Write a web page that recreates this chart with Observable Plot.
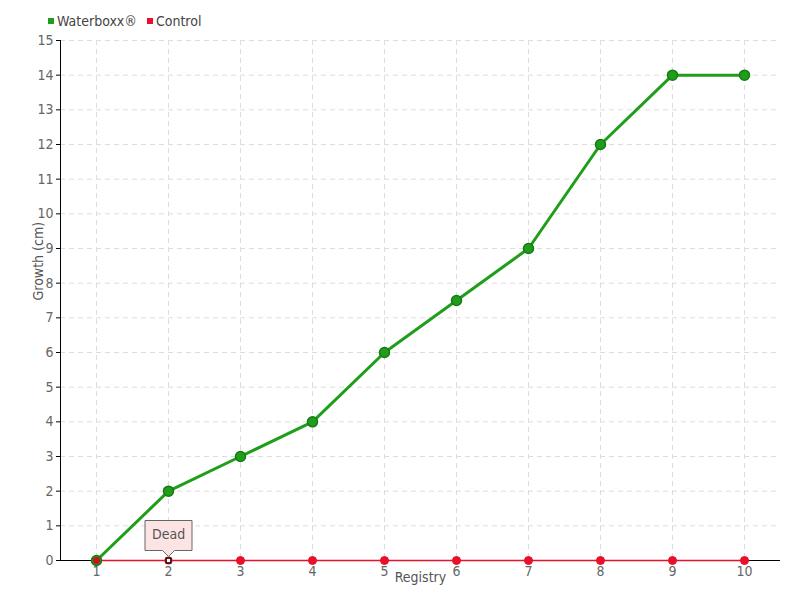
<!DOCTYPE html>
<html><head><meta charset="utf-8">
<script src="https://cdn.jsdelivr.net/npm/d3@7"></script>
<script src="https://cdn.jsdelivr.net/npm/@observablehq/plot@0.6"></script>
<style>
body{margin:0;background:#fff;font-family:"DejaVu Sans Condensed","Liberation Sans Narrow",sans-serif;}
#wrap{position:relative;width:800px;height:600px;}
#legend{position:absolute;left:48px;top:13px;font-size:14px;color:#444;display:flex;gap:10px;align-items:center;}
#legend span.sw{display:inline-block;width:6px;height:6px;margin-right:3px;vertical-align:middle;position:relative;top:-1px;}
#chart{position:absolute;left:0;top:0;}
</style></head>
<body><div id="wrap"><div id="chart"></div><div id="legend"></div></div>
<script>
const registry = [1,2,3,4,5,6,7,8,9,10];
const waterboxx = [0,2,3,4,6,7.5,9,12,14,14];
const control = [0,0,0,0,0,0,0,0,0,0];
const seriesNames = ["Waterboxx®","Control"];
const seriesColors = ["#1f9e1a","#e8102a"];
const yTicks = d3.range(0,16);
const deadNote = {x:2, y:0, label:"Dead"};

const wData = registry.map((r,i)=>({x:r,y:waterboxx[i]}));
const cData = registry.map((r,i)=>({x:r,y:control[i]}));

const leg = document.getElementById("legend");
seriesNames.forEach((n,i)=>{
  const s=document.createElement("div");
  s.innerHTML=`<span class="sw" style="background:${seriesColors[i]}"></span>${n}`;
  leg.appendChild(s);
});

const chart = Plot.plot({
  width:800, height:600,
  marginTop:40, marginLeft:60, marginRight:20, marginBottom:40,
  style:{fontFamily:'"DejaVu Sans Condensed","Liberation Sans Narrow",sans-serif', fontSize:"14px", color:"#555", background:"#fff"},
  x:{domain:[0.5,10.5]},
  y:{domain:[0,15]},
  marks:[
    Plot.gridY(yTicks,{stroke:"#ddd", strokeOpacity:1, strokeDasharray:"5,4"}),
    Plot.gridX(registry,{stroke:"#ddd", strokeOpacity:1, strokeDasharray:"5,4"}),
    Plot.axisX(registry,{tickSize:0, tickPadding:6, tickFormat:d=>String(d), label:null, fill:"#666"}),
    Plot.axisY(yTicks,{tickSize:4, tickPadding:3, tickFormat:d=>String(d), label:null, stroke:"#000", fill:"#666"}),
    Plot.text(["Registry"],{frameAnchor:"bottom", dy:21, fontSize:14, fill:"#555"}),
    Plot.text(["Growth (cm)"],{frameAnchor:"left", dx:-22, rotate:-90, fontSize:14, fill:"#555"}),
    Plot.ruleX([0.5],{stroke:"#000"}),
    Plot.ruleY([0],{stroke:"#000"}),
    Plot.line(cData,{x:"x",y:"y",stroke:seriesColors[1],strokeWidth:1.5}),
    Plot.dot(cData.filter(d=>d.x!==2),{x:"x",y:"y",r:4,fill:seriesColors[1],stroke:"#e8102a",strokeWidth:1}),
    Plot.line(wData,{x:"x",y:"y",stroke:seriesColors[0],strokeWidth:3}),
    Plot.dot(wData,{x:"x",y:"y",r:5,fill:seriesColors[0],stroke:"#187a15",strokeWidth:1.5}),
    Plot.dot(cData.filter(d=>d.x===1),{x:"x",y:"y",r:3.5,fill:"#d0101f"}),
    Plot.dot([deadNote],{x:"x",y:"y",r:4,fill:"#e8102a"}),
    Plot.dot([deadNote],{x:"x",y:"y",symbol:"square",r:2.6,fill:"#fff",stroke:"#000",strokeWidth:1.2}),
    Plot.tip([deadNote],{x:"x",y:"y",title:"label",anchor:"bottom",dy:-4,fill:"#fde4e4",stroke:"#666",fontSize:14,textPadding:7,pathFilter:null})
  ]
});
document.getElementById("chart").appendChild(chart);
</script></body></html>
